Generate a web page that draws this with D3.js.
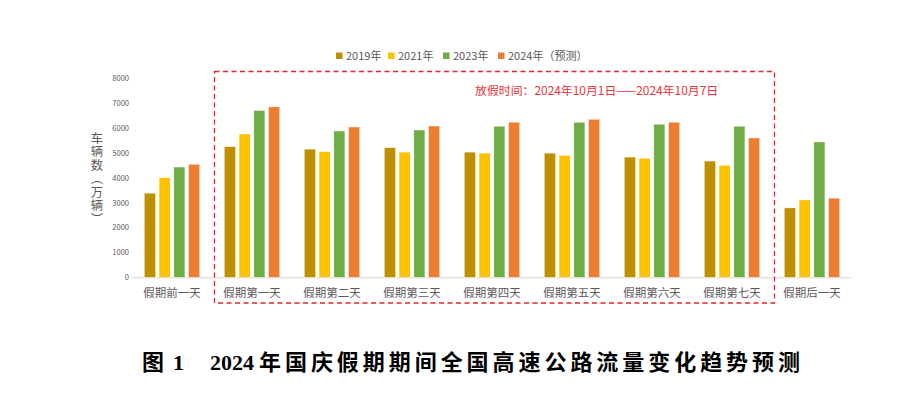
<!DOCTYPE html>
<html><head><meta charset="utf-8">
<script src="https://cdn.jsdelivr.net/npm/d3@7"></script>
<style>
html,body{margin:0;padding:0;background:#fff;}
svg{display:block;}
</style></head>
<body>
<script>
const categories = ["假期前一天","假期第一天","假期第二天","假期第三天","假期第四天","假期第五天","假期第六天","假期第七天","假期后一天"];
const seriesNames = ["2019年","2021年","2023年","2024年（预测）"];
const values2019 = [3380,5250,5150,5210,5030,4990,4830,4670,2790];
const values2021 = [4000,5760,5050,5030,4990,4900,4780,4500,3110];
const values2023 = [4430,6700,5880,5920,6070,6230,6150,6070,5440];
const values2024 = [4540,6850,6040,6080,6230,6350,6230,5600,3180];
const colors = ["#bf8f00","#ffc000","#70ad47","#ed7d31"];
const yTicks = [0,1000,2000,3000,4000,5000,6000,7000,8000];
const annotation = "放假时间：2024年10月1日——2024年10月7日";
const yTitle = "车辆数（万辆）";
const captionFig = "图";
const captionNum = "1";
const captionYear = "2024";
const captionText = "年国庆假期期间全国高速公路流量变化趋势预测";

const series = [values2019, values2021, values2023, values2024];
const W = 915, H = 394;
const svg = d3.select("body").append("svg").attr("width", W).attr("height", H);
const font = "'Noto Sans CJK SC', 'Noto Sans', sans-serif";

const x0 = d3.scaleBand().domain(categories).range([132, 852]).paddingInner(0.31).paddingOuter(0.155);
const x1 = d3.scaleBand().domain(d3.range(4)).range([0, x0.bandwidth()]).paddingInner(0.25);
const y = d3.scaleLinear().domain([0, 8000]).range([277.3, 78.3]);

// bars
categories.forEach((c, i) => {
  const g = svg.append("g").attr("transform", `translate(${x0(c)},0)`);
  series.forEach((s, k) => {
    g.append("rect")
      .attr("x", x1(k)).attr("width", x1.bandwidth())
      .attr("y", y(s[i])).attr("height", y(0) - y(s[i]))
      .attr("fill", colors[k])
      .attr("stroke", "#fff").attr("stroke-opacity", 0.5).attr("stroke-width", 0.6);
  });
});

// baseline
svg.append("line").attr("x1", 132).attr("x2", 852).attr("y1", y(0) + 0.5).attr("y2", y(0) + 0.5)
  .attr("stroke", "#d9d9d9").attr("stroke-width", 1);

// y tick labels
const yAxis = d3.axisLeft(y).tickValues(yTicks).tickFormat(d3.format("d")).tickSize(0).tickPadding(0);
const ya = svg.append("g").attr("transform", "translate(129,0)").call(yAxis);
ya.select(".domain").remove();
ya.selectAll("text").attr("font-family", font).attr("font-size", 7.5).attr("fill", "#595959");

// x labels
const xAxis = d3.axisBottom(x0).tickSize(0).tickPadding(0);
const xa = svg.append("g").attr("transform", `translate(0,${y(0)})`).call(xAxis);
xa.select(".domain").remove();
xa.selectAll("text").attr("font-family", font).attr("font-size", 11.5).attr("fill", "#595959")
  .attr("dy", null).attr("y", 20);

// y title (vertical)
svg.append("text")
  .attr("x", 97).attr("y", 132)
  .attr("font-family", font).attr("font-size", 12.3).attr("fill", "#595959")
  .attr("letter-spacing", 1.2)
  .style("writing-mode", "vertical-rl").style("text-orientation", "mixed")
  .text(yTitle);

// legend
const legendX = [336, 388, 443, 498];
seriesNames.forEach((n, k) => {
  svg.append("rect").attr("x", legendX[k]).attr("y", 52.5).attr("width", 6.5).attr("height", 6.5).attr("fill", colors[k]);
  svg.append("text").attr("x", legendX[k] + 10).attr("y", 60)
    .attr("font-family", font).attr("font-size", 11).attr("fill", "#595959").text(n);
});

// dashed box
svg.append("rect").attr("x", 214.5).attr("y", 71.5).attr("width", 560).attr("height", 231.5)
  .attr("fill", "none").attr("stroke", "#e0262b").attr("stroke-width", 1.3).attr("stroke-dasharray", "5,3.5");

// annotation
svg.append("text").attr("x", 475).attr("y", 95)
  .attr("font-family", font).attr("font-size", 11.9).attr("fill", "#e8333a").text(annotation);

// caption
const cap = svg.append("text").attr("y", 370).attr("font-weight", "bold")
  .attr("font-family", "'Liberation Serif', 'Noto Sans CJK SC', serif").attr("font-size", 22).attr("fill", "#000");
cap.append("tspan").attr("x", 142).text(captionFig);
cap.append("tspan").attr("x", 173).text(captionNum);
cap.append("tspan").attr("x", 210).text(captionYear);
cap.append("tspan").attr("x", 259).attr("textLength", 541).attr("lengthAdjust", "spacing").text(captionText);
</script>
</body></html>
